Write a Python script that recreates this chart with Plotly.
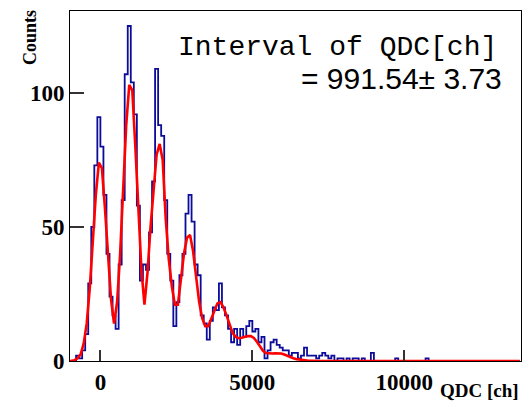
import plotly.graph_objects as go

# Histogram binning (channels)
BIN_START = -1000
BIN_WIDTH = 100

# Measured counts per bin (blue histogram)
counts = [
    0, 0, 2, 1, 4, 10, 29, 50, 73, 91,
    80, 62, 40, 24, 17, 12, 36, 60, 107, 125,
    104, 92, 58, 30, 36, 34, 48, 67, 109, 88,
    84, 60, 40, 30, 13, 22, 32, 40, 55, 62,
    52, 36, 32, 17, 14, 8, 15, 20, 19, 29,
    20, 17, 12, 7, 12, 6, 12, 9, 13, 15,
    11, 12, 7, 9, 1, 4, 7, 8, 6, 5,
    4, 4, 2, 3, 3, 1, 2, 5, 2, 2,
    2, 1, 2, 3, 2, 1, 2, 0, 1, 1,
    0, 1, 0, 1, 1, 0, 1, 0, 0, 3,
    0, 0, 0, 0, 0, 0, 0, 1, 0, 0,
    0, 0, 0, 0, 0, 0, 0, 1, 0, 0,
    0, 0, 0, 0, 0, 0, 0, 0, 0, 0,
    0, 0, 0, 0, 0, 0, 0, 0, 0, 0,
    0, 0, 0, 0, 0, 0, 0, 0,
]

# Fit curve values at bin centres (red)
fit = [
    0.1, 0.3, 1, 2.5, 6.5, 14, 27, 45, 62, 74,
    72, 57, 38, 23, 14, 22, 40, 63, 88, 103,
    101, 80, 56, 34, 21, 33, 50, 65, 77, 81,
    75, 53, 38, 28, 21, 21, 30, 40, 46, 47,
    41, 32, 22, 16, 13, 13, 16, 19, 21.5, 22,
    20, 17, 13.5, 10.5, 9, 8.5, 8.7, 9.1, 9.3, 9.3,
    8.6, 7.2, 5.5, 3.8, 3, 2.8, 2.8, 2.9, 2.9, 2.8,
    2.4, 1.9, 1.4, 1.0, 0.7, 0.5, 0.3, 0.2, 0.1, 0.1,
    0, 0, 0, 0, 0, 0, 0, 0, 0, 0,
    0, 0, 0, 0, 0, 0, 0, 0, 0, 0,
    0, 0, 0, 0, 0, 0, 0, 0, 0, 0,
    0, 0, 0, 0, 0, 0, 0, 0, 0, 0,
    0, 0, 0, 0, 0, 0, 0, 0, 0, 0,
    0, 0, 0, 0, 0, 0, 0, 0, 0, 0,
    0, 0, 0, 0, 0, 0, 0, 0,
]

x_ticks = [0, 5000, 10000]
x_tick_labels = ["0", "5000", "10000"]
y_ticks = [0, 50, 100]
y_tick_labels = ["0", "50", "100"]
x_title = "QDC [ch]"
y_title = "Counts"
label_line1 = "Interval of QDC[ch]"
label_line2 = "= 991.54\u00b1 3.73"

n = len(counts)
edges = [BIN_START + BIN_WIDTH * i for i in range(n + 1)]
centers = [BIN_START + BIN_WIDTH * (i + 0.5) for i in range(len(fit))]

fig = go.Figure()
fig.add_trace(go.Scatter(
    x=edges, y=counts + [counts[-1]], mode="lines", line_shape="hv",
    line=dict(color="#0c0c9a", width=1.8), hoverinfo="skip", showlegend=False))
fig.add_trace(go.Scatter(
    x=[BIN_START] + centers + [BIN_START + BIN_WIDTH * n], y=[0] + fit + [0],
    mode="lines", line=dict(color="#ff0000", width=2.6),
    hoverinfo="skip", showlegend=False))

tickfont = dict(family="Liberation Serif", size=23, color="black", weight="bold")
fig.update_layout(
    width=523, height=401,
    margin=dict(l=70, r=2, t=11, b=40),
    paper_bgcolor="white", plot_bgcolor="white",
    xaxis=dict(range=[-1000, 13840], tickvals=x_ticks, ticktext=x_tick_labels,
               ticks="inside", ticklen=11,
               tickcolor="#333", tickwidth=1.5, showline=True, linecolor="black",
               linewidth=1, mirror=True, showgrid=False, zeroline=False,
               tickfont=tickfont, ticklabelstandoff=0),
    yaxis=dict(range=[0, 130.6], tickvals=y_ticks, ticktext=y_tick_labels,
               ticks="inside", ticklen=14,
               tickcolor="#333", tickwidth=1.5, showline=True, linecolor="black",
               linewidth=1, mirror=True, showgrid=False, zeroline=False,
               tickfont=tickfont),
    annotations=[
        dict(text=x_title, xref="paper", yref="paper", x=1.0, y=-0.083,
             xanchor="right", yanchor="middle", showarrow=False,
             font=dict(family="Liberation Serif", size=19, color="black", weight="bold")),
        dict(text=y_title, xref="paper", yref="paper", x=-0.09, y=1.008,
             xanchor="center", yanchor="top", textangle=-90, showarrow=False,
             font=dict(family="Liberation Serif", size=18, color="black", weight="bold")),
        dict(text=label_line1, xref="paper", yref="paper", x=0.952, y=0.896,
             xanchor="right", yanchor="middle", showarrow=False,
             font=dict(family="Liberation Mono", size=28, color="black")),
        dict(text=label_line2, xref="paper", yref="paper", x=0.962, y=0.806,
             xanchor="right", yanchor="middle", showarrow=False,
             font=dict(family="Liberation Sans", size=30, color="black")),
    ],
)

fig.write_html("out.html")
